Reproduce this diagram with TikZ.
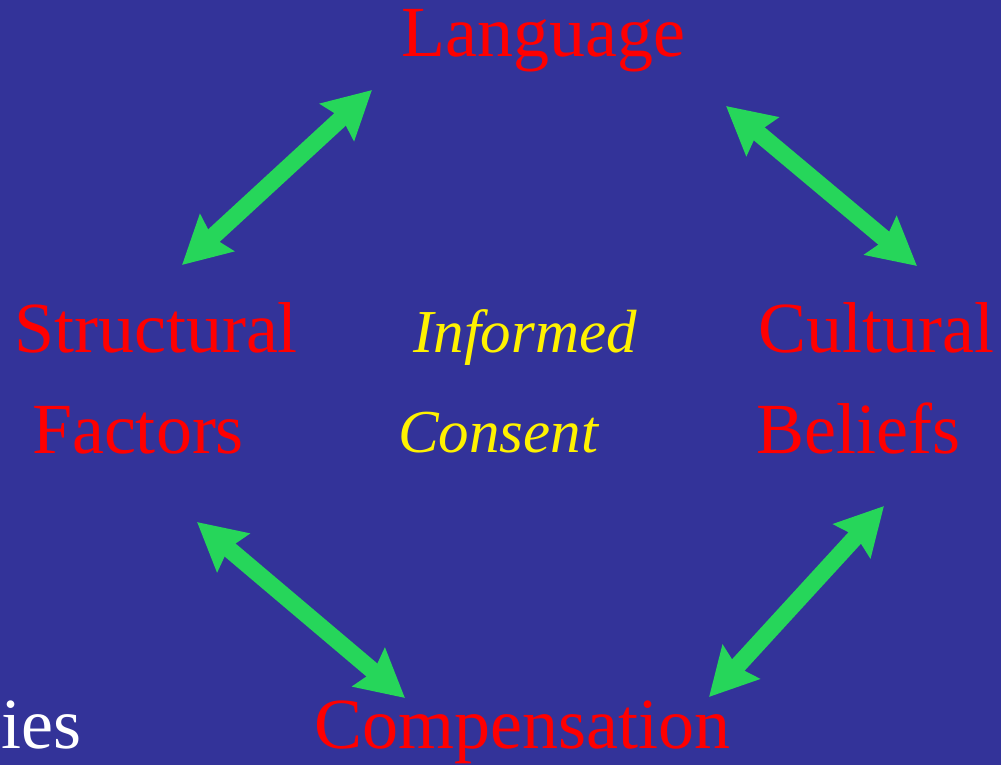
\documentclass[tikz,border=0pt]{standalone}
\usepackage{fontspec}
\setmainfont{Liberation Serif}
\usetikzlibrary{arrows.meta, positioning}
\definecolor{fondo}{RGB}{51,51,153}
\definecolor{verde}{RGB}{38,214,90}

\begin{document}
\begin{tikzpicture}[
    x=1pt, y=-1pt,
    word/.style={text=red, inner sep=0pt, anchor=base, font=\fontsize{72}{86}\selectfont},
    core/.style={text=yellow, inner sep=0pt, anchor=base, font=\fontsize{61}{74}\selectfont\itshape},
    link/.style={verde, line width=17pt, {Stealth[length=47pt, width=49pt, inset=6pt]}-{Stealth[length=47pt, width=49pt, inset=6pt]}}
]

% Fondo
\fill[fondo] (0,0) rectangle (1001,765);
\useasboundingbox (0,0) rectangle (1001,765);
\clip (0,0) rectangle (1001,765);

% Nodos
\node (language) [word] at (543,57) {Language};
\node (structural) [word] at (156,352) {Structural};
\node (factors) [word] at (138,453) {Factors};
\node (cultural) [word] at (876,352) {Cultural};
\node (beliefs) [word] at (858,453) {Beliefs};
\node (compensation) [word] at (522,748) {Compensation};

% Centro
\node (informed) [core] at (525,352) {Informed};
\node (consent) [core] at (498,452) {Consent};

% Texto cortado a la izquierda
\node (ies) [word, text=white, anchor=base east] at (82,748) {ies};

% Extremos de las flechas
\coordinate (ls-a) at (372,90);
\coordinate (ls-b) at (182,265);
\coordinate (lc-a) at (726,106);
\coordinate (lc-b) at (917,266);
\coordinate (sc-a) at (197,522);
\coordinate (sc-b) at (405,698);
\coordinate (cc-a) at (884,506);
\coordinate (cc-b) at (709,697);

% FLECHAS
\draw [link] (ls-a) -- (ls-b);
\draw [link] (lc-a) -- (lc-b);
\draw [link] (sc-a) -- (sc-b);
\draw [link] (cc-a) -- (cc-b);

\end{tikzpicture}
\end{document}
